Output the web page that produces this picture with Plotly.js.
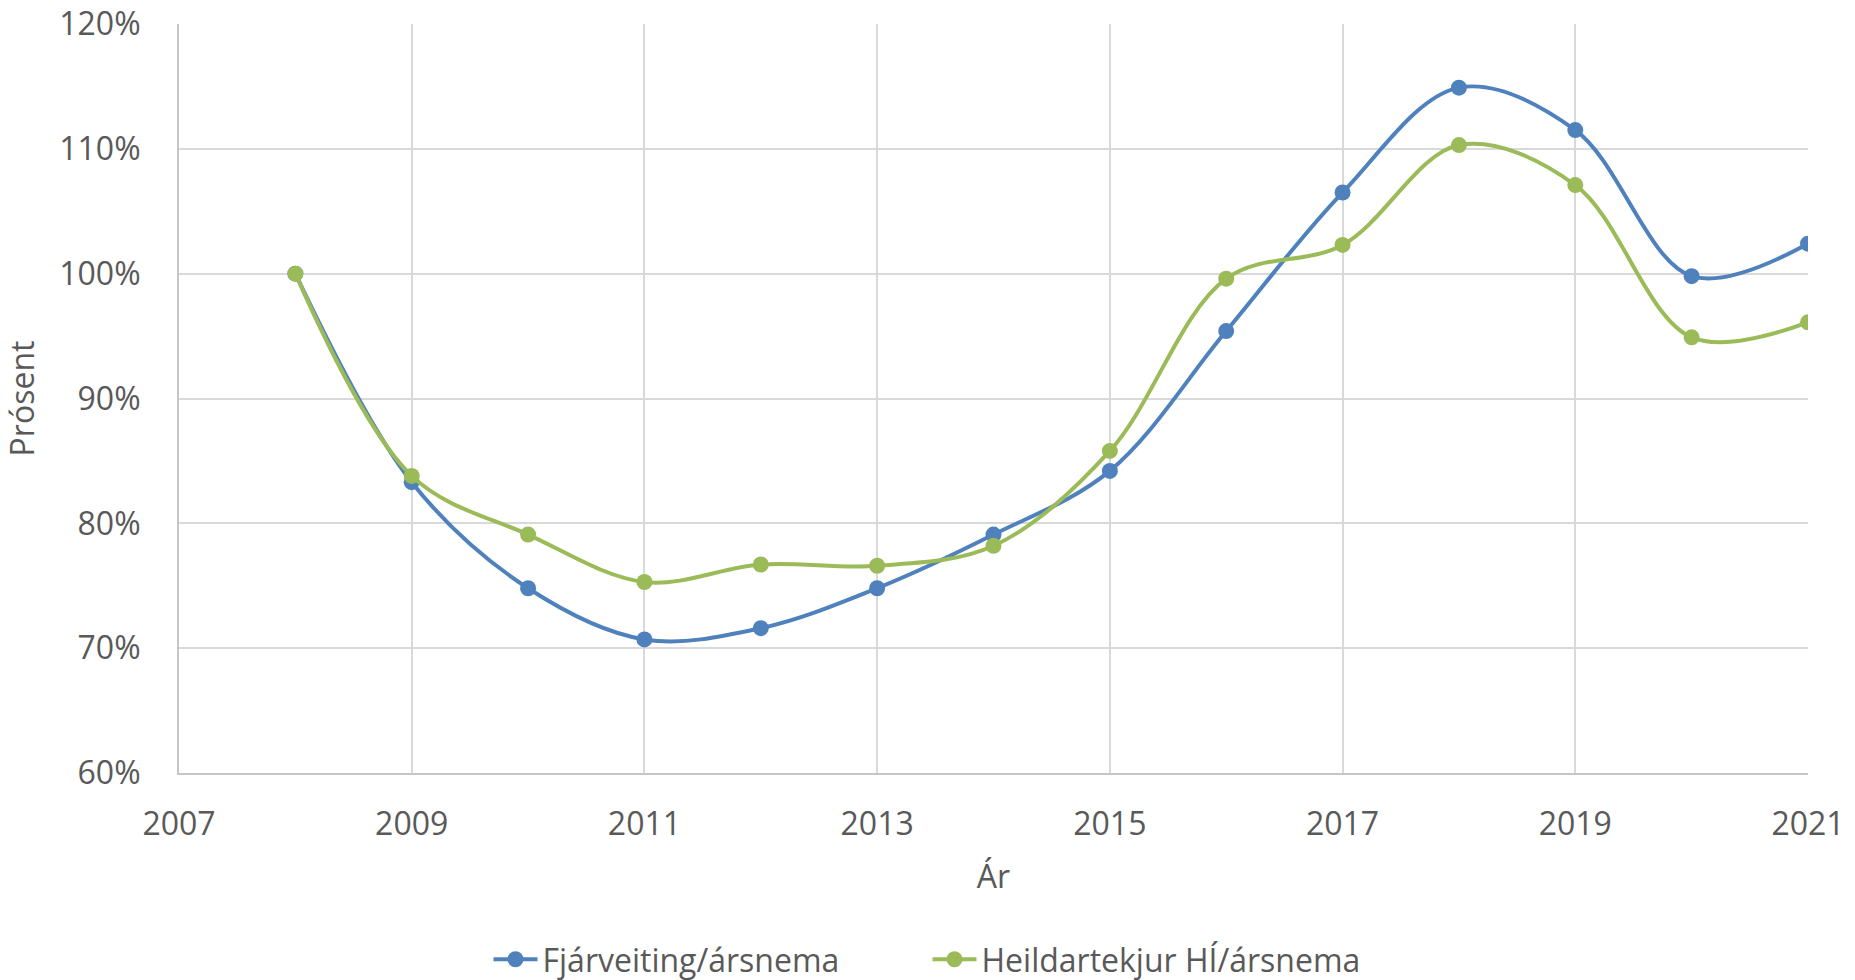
<!DOCTYPE html>
<html>
<head>
<meta charset="utf-8">
<script src="https://cdn.plot.ly/plotly-3.0.1.min.js"></script>
<style>
  html, body { margin: 0; padding: 0; background: #ffffff; }
  #chart { width: 1855px; height: 980px; }
</style>
</head>
<body>
<div id="chart"></div>
<script>
const years = [2008, 2009, 2010, 2011, 2012, 2013, 2014, 2015, 2016, 2017, 2018, 2019, 2020, 2021];
const fjarveiting = [100, 83.3, 74.8, 70.7, 71.6, 74.8, 79.1, 84.2, 95.4, 106.5, 114.9, 111.5, 99.8, 102.4];
const heildartekjur = [100, 83.8, 79.1, 75.3, 76.7, 76.6, 78.2, 85.8, 99.6, 102.3, 110.3, 107.1, 94.9, 96.1];
const seriesNames = ["Fjárveiting/ársnema", "Heildartekjur HÍ/ársnema"];
const xTitle = "Ár";
const yTitle = "Prósent";

const textColor = "#595959";
const fontFamily = "'Open Sans', 'DejaVu Sans', sans-serif";

const traces = [
  {
    x: years, y: fjarveiting, name: seriesNames[0], type: "scatter", mode: "lines+markers",
    line: { color: "#4f81bd", width: 4, shape: "spline", smoothing: 1 },
    marker: { color: "#4f81bd", size: 16 }
  },
  {
    x: years, y: heildartekjur, name: seriesNames[1], type: "scatter", mode: "lines+markers",
    line: { color: "#9bbb59", width: 4, shape: "spline", smoothing: 1 },
    marker: { color: "#9bbb59", size: 16 }
  }
];

const layout = {
  width: 1855, height: 980,
  paper_bgcolor: "#ffffff", plot_bgcolor: "#ffffff",
  font: { family: fontFamily, size: 32, color: textColor },
  margin: { l: 178.5, r: 47, t: 24, b: 207, pad: 0 },
  showlegend: true,
  xaxis: {
    range: [2007, 2021], tick0: 2007, dtick: 2, tickmode: "linear",
    showgrid: true, gridcolor: "#d9d9d9", gridwidth: 2,
    showline: true, linecolor: "#c6c6c6", linewidth: 2,
    zeroline: false, ticks: "", ticklabelstandoff: 22,
    tickfont: { family: fontFamily, size: 32, color: textColor },
    title: { text: xTitle, font: { family: fontFamily, size: 32, color: textColor }, standoff: 22 }
  },
  yaxis: {
    range: [60, 120], tick0: 60, dtick: 10, tickmode: "linear", ticksuffix: "%",
    showgrid: true, gridcolor: "#d9d9d9", gridwidth: 2,
    showline: true, linecolor: "#c6c6c6", linewidth: 2,
    zeroline: false, ticks: "", ticklabelstandoff: 30,
    tickfont: { family: fontFamily, size: 32, color: textColor },
    title: { text: yTitle, font: { family: fontFamily, size: 32, color: textColor }, standoff: 23 }
  },
  legend: {
    orientation: "h", xref: "container", yref: "container",
    x: 0.5, xanchor: "center", y: 0.021, yanchor: "middle",
    font: { family: fontFamily, size: 32, color: textColor },
    bgcolor: "rgba(0,0,0,0)", itemwidth: 44,
    entrywidth: 380, entrywidthmode: "pixels"
  }
};

Plotly.newPlot("chart", traces, layout, { staticPlot: true, displayModeBar: false });
</script>
</body>
</html>
